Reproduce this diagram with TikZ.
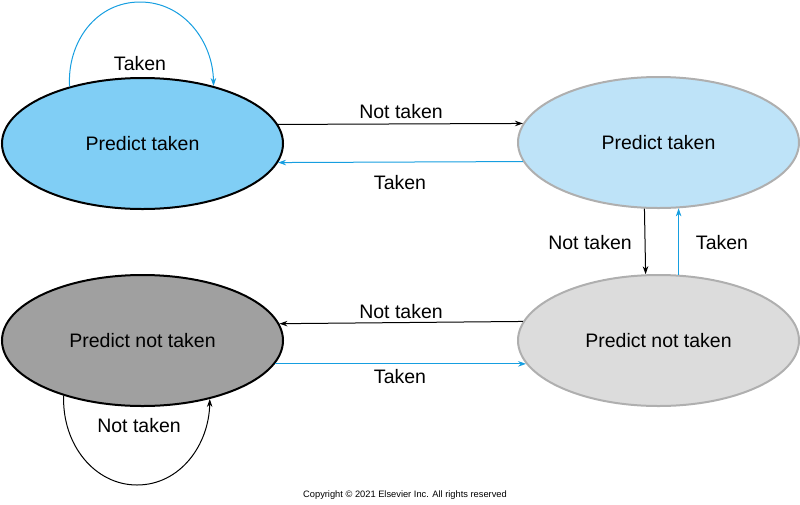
\documentclass[tikz,border=0pt]{standalone}
\usepackage{fontspec}
\setmainfont{Liberation Sans}
\usetikzlibrary{shapes.geometric,arrows.meta}
\definecolor{arrowblue}{RGB}{22,158,224}
\definecolor{fillA}{RGB}{128,206,245}
\definecolor{fillB}{RGB}{190,227,248}
\definecolor{fillC}{RGB}{160,160,160}
\definecolor{fillD}{RGB}{220,220,220}
\definecolor{edgegray}{RGB}{175,175,175}
\tikzset{
  state/.style={ellipse, minimum width=281pt, minimum height=131pt, inner sep=0pt,
    line width=2pt, font=\fontsize{19.5}{22}\selectfont},
  lbl/.style={font=\fontsize{19.5}{22}\selectfont, inner sep=0pt},
  conn/.style={line width=1pt, -{Stealth[length=8pt,width=5.5pt]}},
  blueconn/.style={conn, draw=arrowblue},
  blackconn/.style={conn, draw=black}
}
\begin{document}
\begin{tikzpicture}[x=1pt,y=-1pt]
\useasboundingbox (0,0) rectangle (800,504);
\node[state, draw=black, fill=fillA] (tl) at (142.5,143.5) {Predict taken};
\node[state, draw=edgegray, fill=fillB] (tr) at (658.5,142.5) {Predict taken};
\node[state, draw=black, fill=fillC] (bl) at (142.5,340.5) {Predict not taken};
\node[state, draw=edgegray, fill=fillD] (br) at (658.5,340.5) {Predict not taken};

% horizontal connectors
\draw[blackconn] (tl.8) -- (tr.172);
\draw[blueconn] (tr.188.8) -- (tl.-8.8);
\draw[blackconn] (br.172.6) -- (bl.7.4);
\draw[blueconn] (bl.-10.9) -- (br.190.9);

% vertical connectors
\draw[blackconn] (tr.258.3) -- (br.101.7);
\draw[blueconn] (br.73.3) -- (tr.-73.3);

% self loops
\coordinate (toploop) at (140,2);
\coordinate (botloop) at (137,485);
\draw[blueconn] (tl.142) .. controls (67,42) and (96,2) .. (toploop)
  .. controls (184,2) and (213,42) .. (tl.39.6);
\draw[blackconn] (bl.215.5) .. controls (62,445) and (95,485) .. (botloop)
  .. controls (180,485) and (209,445) .. (bl.-41.8);

% labels
\node[lbl] (l1) at (401,111.5) {Not taken};
\node[lbl] (l2) at (400,182.5) {Taken};
\node[lbl] (l3) at (401,312) {Not taken};
\node[lbl] (l4) at (400,377) {Taken};
\node[lbl] (l5) at (590,243) {Not taken};
\node[lbl] (l6) at (722,243) {Taken};
\node[lbl] (l7) at (140,64) {Taken};
\node[lbl] (l8) at (139,426) {Not taken};

\node[font=\fontsize{9.3}{10}\selectfont, inner sep=0pt] (copy) at (405,495.5) {Copyright © 2021 Elsevier Inc. All rights reserved};
\end{tikzpicture}
\end{document}
